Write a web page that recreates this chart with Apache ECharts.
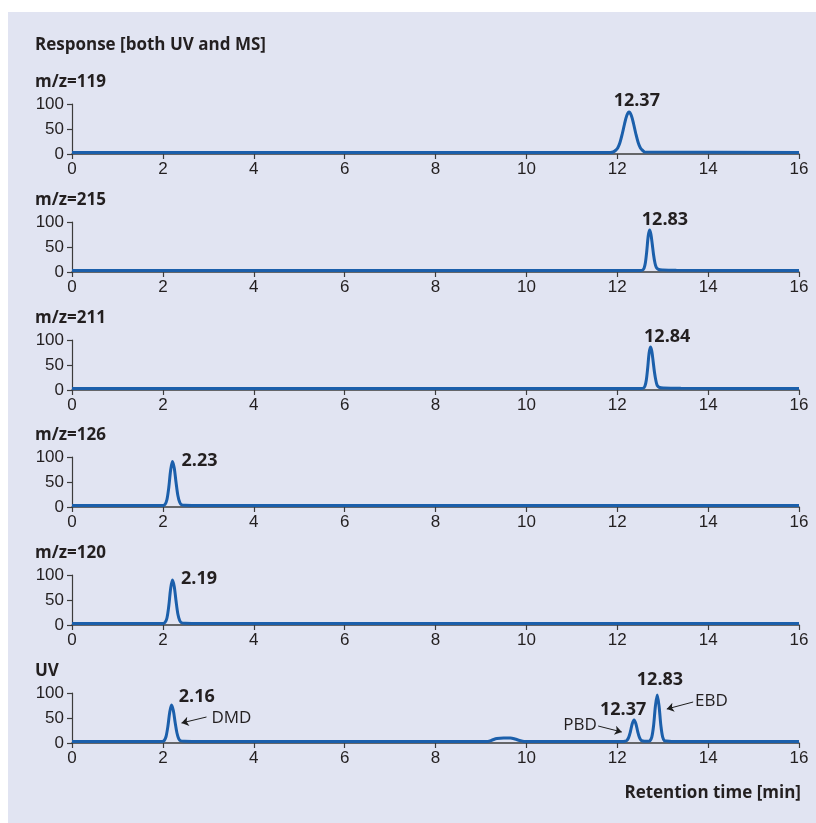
<!DOCTYPE html>
<html><head><meta charset="utf-8">
<script src="https://cdn.jsdelivr.net/npm/echarts@6/dist/echarts.min.js"></script>
<style>html,body{margin:0;padding:0;background:#fff}#c{width:816px;height:823px}</style>
</head><body><div id="c"></div>
<script>
// ---- DATA ----
const titleText = 'Response [both UV and MS]';
const xAxisTitle = 'Retention time [min]';
const panelNames = ['m/z=119', 'm/z=215', 'm/z=211', 'm/z=126', 'm/z=120', 'UV'];
const xTicks = [0, 2, 4, 6, 8, 10, 12, 14, 16];
const yTicks = [0, 50, 100];

const mz119X = [0, 11.85, 11.91, 11.96, 12.01, 12.06, 12.11, 12.16, 12.21, 12.26, 12.31, 12.36, 12.41, 12.46, 12.51, 12.56, 12.61, 16];
const mz119Y = [3, 3, 4, 7, 12, 23, 40, 60, 77, 84, 77, 60, 40, 23, 12, 7, 4, 3];

const mz215X = [0, 12.5, 12.55, 12.59, 12.62, 12.65, 12.68, 12.71, 12.74, 12.77, 12.8, 12.83, 12.86, 12.91, 13.0, 13.3, 16];
const mz215Y = [3, 3, 3.5, 7.5, 19, 42, 71, 84, 76, 56, 34, 18, 9, 5, 4, 3.5, 3];

const mz211X = [0, 12.52, 12.57, 12.61, 12.64, 12.67, 12.7, 12.73, 12.76, 12.79, 12.82, 12.85, 12.88, 12.93, 13.02, 13.4, 16];
const mz211Y = [3, 3, 3.5, 8, 20, 44, 73, 86, 78, 57, 35, 19, 9, 5, 4, 3.5, 3];

const mz126X = [0, 1.95, 2.01, 2.05, 2.09, 2.13, 2.17, 2.21, 2.25, 2.29, 2.33, 2.37, 2.41, 2.49, 2.8, 16];
const mz126Y = [3, 3, 3.2, 5.5, 15, 39, 73, 91, 78, 49, 23, 9.5, 4.5, 3.5, 3, 3];

const mz120X = [0, 1.95, 2.01, 2.05, 2.09, 2.13, 2.17, 2.21, 2.25, 2.29, 2.33, 2.37, 2.41, 2.49, 2.8, 16];
const mz120Y = [3, 3, 3.2, 5.5, 14, 38, 72, 90, 77, 48, 22, 9, 4.5, 3.5, 3, 3];

const uvX = [0, 1.95, 1.99, 2.03, 2.07, 2.11, 2.15, 2.19, 2.23, 2.27, 2.31, 2.35, 2.39, 2.47, 2.8,
  9.15, 9.25, 9.35, 9.5, 9.65, 9.75, 9.85, 9.95,
  12.1, 12.17, 12.21, 12.25, 12.29, 12.33, 12.37, 12.41, 12.45, 12.49, 12.53, 12.6,
  12.68, 12.72, 12.76, 12.8, 12.84, 12.88, 12.92, 12.96, 13.0, 13.04, 13.08, 13.2, 13.5, 16];
const uvY = [3, 3, 3.2, 5, 13, 33, 61, 76, 65, 41, 20, 8.3, 4.2, 3.5, 3,
  3, 6, 9, 10, 10, 8, 5, 3,
  3, 3.5, 5, 10.8, 23, 38.6, 46, 38.6, 23, 10.8, 5, 3.5,
  3.5, 4.4, 11.6, 35, 74, 96, 74, 35, 11.6, 4.4, 3.8, 3.2, 3, 3];

const seriesX = [mz119X, mz215X, mz211X, mz126X, mz120X, uvX];
const seriesY = [mz119Y, mz215Y, mz211Y, mz126Y, mz120Y, uvY];

// peak annotations (data coordinates)
const labelPanel = [0, 1, 2, 3, 4, 5, 5, 5, 5, 5, 5];
const labelText  = ['12.37', '12.83', '12.84', '2.23', '2.19', '2.16', 'DMD', '12.37', '12.83', 'PBD', 'EBD'];
const labelX     = [12.43, 13.05, 13.1, 2.41, 2.4, 2.35, 3.07, 12.13, 12.94, 11.55, 13.71];
const labelY     = [107, 104, 106, 92, 92, 92, 50, 66, 126, 36, 84];
const labelBold  = [true, true, true, true, true, true, false, true, true, false, false];
const labelAlign = ['center', 'center', 'center', 'left', 'left', 'left', 'left', 'center', 'center', 'right', 'left'];

// arrows (UV panel)
const arrowPanel = [5, 5, 5];
const arrowFromX = [2.96, 11.58, 13.67];
const arrowFromY = [52, 34, 82];
const arrowToX   = [2.41, 12.10, 13.09];
const arrowToY   = [40, 22, 68];

// ---- LAYOUT / STYLE ----
const W = 816, H = 823;
const gridLeft = 72, gridWidth = 727, gridHeight = 50;
const gridTops = [104, 222, 340, 457, 575, 693];
const nameY = [82, 200, 318, 435, 553, 671];
const boldFont = '"Open Sans", "DejaVu Sans", sans-serif';
const tickFont = '"Liberation Sans", Arial, sans-serif';
const axisColor = '#3c3c3c';
const lineColor = '#1b5fab';
const textColor = '#231f20';

const chart = echarts.init(document.getElementById('c'), null, {renderer: 'canvas', width: W, height: H});

const grids = [], xAxes = [], yAxes = [], series = [];
for (let i = 0; i < panelNames.length; i++) {
  grids.push({left: gridLeft, width: gridWidth, top: gridTops[i], height: gridHeight});
  xAxes.push({
    type: 'value', gridIndex: i, min: xTicks[0], max: xTicks[xTicks.length - 1], interval: xTicks[1] - xTicks[0],
    axisLine: {show: true, onZero: false, lineStyle: {color: axisColor, width: 1.5}},
    axisTick: {show: true, length: 5, lineStyle: {color: axisColor, width: 1.2}},
    axisLabel: {fontSize: 17, color: textColor, fontFamily: tickFont, margin: 7},
    splitLine: {show: false}
  });
  yAxes.push({
    type: 'value', gridIndex: i, min: yTicks[0], max: yTicks[yTicks.length - 1], interval: yTicks[1] - yTicks[0],
    axisLine: {show: true, lineStyle: {color: axisColor, width: 1.2}},
    axisTick: {show: true, length: 5, lineStyle: {color: axisColor, width: 1.2}},
    axisLabel: {fontSize: 17, color: textColor, fontFamily: tickFont, margin: 8},
    splitLine: {show: false}
  });
  const xs = seriesX[i], ys = seriesY[i];
  series.push({
    type: 'line', xAxisIndex: i, yAxisIndex: i,
    data: xs.map((x, k) => [x, ys[k]]),
    showSymbol: false, smooth: 0.3, clip: false, z: 5,
    lineStyle: {color: lineColor, width: 3},
    silent: true, animation: false
  });
  const ld = [];
  for (let k = 0; k < labelPanel.length; k++) {
    if (labelPanel[k] !== i) continue;
    ld.push({
      value: [labelX[k], labelY[k]],
      label: {
        show: true, formatter: labelText[k], position: [0, 0],
        align: labelAlign[k], verticalAlign: 'middle',
        fontFamily: boldFont, fontWeight: labelBold[k] ? 'bold' : 'normal',
        fontSize: labelBold[k] ? 18 : 17, color: textColor,
        textBorderWidth: 0, textBorderColor: 'transparent', opacity: 1
      }
    });
  }
  if (ld.length) {
    series.push({
      type: 'scatter', xAxisIndex: i, yAxisIndex: i, data: ld, symbolSize: 0,
      itemStyle: {opacity: 0},
      clip: false, silent: true, animation: false, z: 6
    });
  }
  const ad = [];
  for (let k = 0; k < arrowPanel.length; k++) {
    if (arrowPanel[k] !== i) continue;
    ad.push([[arrowFromX[k], arrowFromY[k]], [arrowToX[k], arrowToY[k]]]);
  }
  if (ad.length) {
    series.push({
      type: 'lines', coordinateSystem: 'cartesian2d', xAxisIndex: i, yAxisIndex: i,
      data: ad.map(c => ({coords: c})),
      symbol: ['none', 'arrow'], symbolSize: [0, 7],
      lineStyle: {color: '#1e1e1e', width: 1, opacity: 1},
      silent: true, animation: false, z: 6
    });
  }
}

const graphics = [
  {type: 'rect', shape: {x: 8, y: 12, width: W - 8, height: H - 12}, style: {fill: '#e1e4f2'}, z: -10, silent: true},
  {type: 'text', x: 35, y: 45, style: {text: titleText, font: 'bold 17px ' + boldFont, fill: textColor, textVerticalAlign: 'middle'}, silent: true},
  {type: 'text', x: 801, y: 793, style: {text: xAxisTitle, font: 'bold 17px ' + boldFont, fill: textColor, textAlign: 'right', textVerticalAlign: 'middle'}, silent: true}
];
for (let i = 0; i < panelNames.length; i++) {
  graphics.push({type: 'text', x: 35, y: nameY[i], style: {text: panelNames[i], font: 'bold 17px ' + boldFont, fill: textColor, textVerticalAlign: 'middle'}, silent: true});
}

chart.setOption({
  backgroundColor: '#ffffff',
  animation: false,
  grid: grids, xAxis: xAxes, yAxis: yAxes, series: series,
  graphic: graphics
});
</script>
</body></html>
